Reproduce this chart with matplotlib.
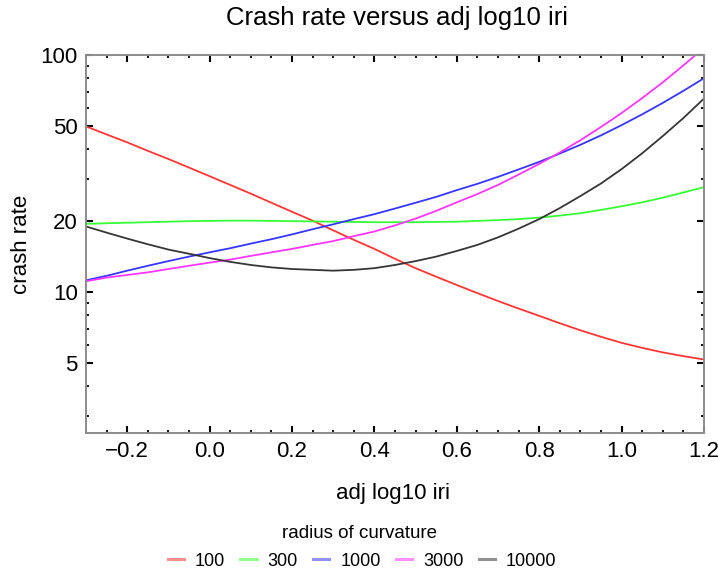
import numpy as np
import matplotlib
matplotlib.use("Agg")
import matplotlib.pyplot as plt
from matplotlib.ticker import FixedLocator, FixedFormatter

plt.rcParams["font.family"] = ["Liberation Sans", "DejaVu Sans"]

# ── Data (every 0.05) ────────────────────────────────────────────────────────
adj_log10_iri = [-0.30, -0.25, -0.20, -0.15, -0.10, -0.05, 0.00, 0.05,
                 0.10, 0.15, 0.20, 0.25, 0.30, 0.35, 0.40, 0.45,
                 0.50, 0.55, 0.60, 0.65, 0.70, 0.75, 0.80, 0.85,
                 0.90, 0.95, 1.00, 1.05, 1.10, 1.15, 1.20]

rate_r100 = [50.0, 46.2, 42.8, 39.4, 36.4, 33.5, 30.8, 28.3,
             26.0, 23.8, 21.8, 20.0, 18.2, 16.6, 15.2, 13.8,
             12.6, 11.6, 10.7, 9.89, 9.16, 8.51, 7.93, 7.38,
             6.89, 6.47, 6.10, 5.81, 5.56, 5.36, 5.19]
rate_r300 = [19.4, 19.5, 19.6, 19.7, 19.8, 19.9, 19.95, 20.0,
             20.0, 19.95, 19.9, 19.85, 19.8, 19.75, 19.7, 19.7,
             19.7, 19.75, 19.8, 19.95, 20.1, 20.3, 20.6, 21.0,
             21.5, 22.2, 23.0, 23.9, 25.0, 26.3, 27.7]
rate_r1000 = [11.2, 11.7, 12.3, 12.9, 13.5, 14.1, 14.7, 15.3,
              16.0, 16.7, 17.5, 18.4, 19.3, 20.3, 21.3, 22.5,
              23.8, 25.2, 26.9, 28.6, 30.6, 32.9, 35.4, 38.4,
              41.8, 45.8, 50.6, 56.2, 62.8, 70.6, 79.8]
rate_r3000 = [11.1, 11.5, 11.8, 12.1, 12.5, 12.9, 13.3, 13.7,
              14.2, 14.7, 15.2, 15.8, 16.4, 17.2, 18.0, 19.1,
              20.4, 22.0, 23.9, 25.9, 28.3, 31.3, 34.7, 38.8,
              43.7, 49.7, 56.9, 65.8, 76.7, 90.4, 107.2]
rate_r10000 = [18.9, 17.8, 16.8, 15.9, 15.1, 14.5, 13.9, 13.4,
               13.0, 12.7, 12.5, 12.4, 12.3, 12.4, 12.6, 13.0,
               13.5, 14.1, 14.9, 15.8, 17.0, 18.5, 20.3, 22.6,
               25.4, 28.7, 33.0, 38.5, 45.5, 54.2, 65.5]

radius_labels = ["100", "300", "1000", "3000", "10000"]
series = [rate_r100, rate_r300, rate_r1000, rate_r3000, rate_r10000]
colors = ["#ff3636", "#36ff36", "#3636ff", "#ff36ff", "#363636"]

x_ticks = [-0.2, 0.0, 0.2, 0.4, 0.6, 0.8, 1.0, 1.2]
x_ticklabels = ["\u22120.2", "0.0", "0.2", "0.4", "0.6", "0.8", "1.0", "1.2"]
y_ticks = [5, 10, 20, 50, 100]
y_ticklabels = ["5", "10", "20", "50", "100"]
y_minor = [3, 4, 6, 7, 8, 9, 30, 40, 60, 70, 80, 90]

# ── Figure ────────────────────────────────────────────────────────────────────
fig = plt.figure(figsize=(7.18, 5.73), dpi=100)
ax = fig.add_axes([0.1198, 0.2443, 0.8607, 0.6597])

handles = []
for vals, col, lab in zip(series, colors, radius_labels):
    ax.plot(adj_log10_iri, vals, color=col, lw=1.3)
    h, = ax.plot([], [], color=col, lw=2.2, alpha=0.55, label=lab)
    handles.append(h)

ax.set_yscale("log")
ax.set_xlim(-0.3, 1.2)
ax.set_ylim(2.54, 100)

ax.xaxis.set_major_locator(FixedLocator(x_ticks))
ax.xaxis.set_major_formatter(FixedFormatter(x_ticklabels))
ax.xaxis.set_minor_locator(FixedLocator(np.arange(-0.3, 1.2001, 0.05)))
ax.yaxis.set_major_locator(FixedLocator(y_ticks))
ax.yaxis.set_major_formatter(FixedFormatter(y_ticklabels))
ax.yaxis.set_minor_locator(FixedLocator(y_minor))
ax.yaxis.set_minor_formatter(FixedFormatter([""] * len(y_minor)))

for sp in ax.spines.values():
    sp.set_color("#8c8c8c")
    sp.set_linewidth(1.4)

ax.tick_params(which="both", direction="in", top=True, right=True,
               color="black", labelsize=16, pad=6)
ax.tick_params(which="major", length=5, width=1.5)
ax.tick_params(which="minor", length=2.5, width=1.3)

fig.text(397 / 718, 1 - 18 / 573, "Crash rate versus adj log10 iri",
         fontsize=18.5, ha="center", va="center")
ax.set_xlabel("adj log10 iri", fontsize=16, va="center")
ax.xaxis.set_label_coords(0.496, (433 - 493) / 378)
ax.set_ylabel("crash rate", fontsize=16, va="center")
ax.yaxis.set_label_coords((21 - 86) / 618, 0.5)

# legend: title as its own text, entries in one row below it
fig.text(360 / 718, 1 - 534 / 573, "radius of curvature",
         fontsize=13.5, ha="center", va="center")
fig.legend(handles=handles, loc="center", ncol=5,
           bbox_to_anchor=(362 / 718, 1 - 561 / 573),
           frameon=False, fontsize=13, handlelength=0.9,
           handletextpad=0.6, columnspacing=0.85,
           borderpad=0.0, borderaxespad=0.0)

fig.savefig("out.png", dpi=100)
